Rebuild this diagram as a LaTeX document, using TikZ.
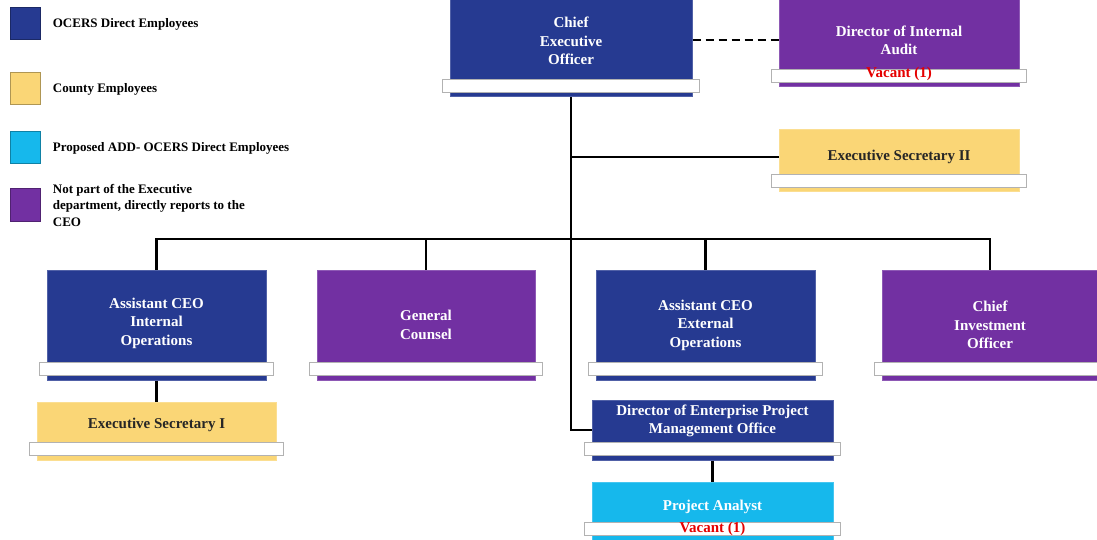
\documentclass[tikz,border=0pt]{standalone}
\usepackage{fontspec}
\setmainfont{Liberation Serif}
\usetikzlibrary{positioning}

\definecolor{ocers}{RGB}{38,58,145}
\definecolor{county}{RGB}{250,214,118}
\definecolor{proposed}{RGB}{22,184,236}
\definecolor{outside}{RGB}{114,48,162}

\tikzset{every picture/.style={line width=0.75pt}}

\begin{document}
\begin{tikzpicture}[x=1pt,y=-1pt,
  unit/.style={fill=#1, draw=#1!80!white, line width=1pt, inner sep=0pt},
  caption/.style={text=white, align=center, inner sep=0pt, font=\bfseries\fontsize{15}{18.5}\selectfont},
  dark caption/.style={caption, text=black!85},
  vacant/.style={text=red!90!black, inner sep=0pt, font=\bfseries\fontsize{15}{17}\selectfont},
  shelf/.style={fill=white, draw=gray!60, line width=0.8pt},
  link/.style={draw=black, line width=2.4pt},
  key/.style={fill=#1, draw=#1!70!black, line width=1pt, minimum width=30pt, minimum height=32pt, inner sep=0pt},
  keytext/.style={align=left, inner sep=0pt, font=\bfseries\fontsize{13}{16.5}\selectfont},
]
\clip (0,0) rectangle (1097,540);

% legend
\node[key=ocers] (k1) at (25,24) {};
\node[key=county] (k2) at (25,89) {};
\node[key=proposed] (k3) at (25,148) {};
\node[key=outside] (k4) at (25,205) {};
\node[keytext, right=12pt of k1] (k1-t) {OCERS Direct Employees};
\node[keytext, right=12pt of k2] (k2-t) {County Employees};
\node[keytext, right=12pt of k3] (k3-t) {Proposed ADD- OCERS Direct Employees};
\node[keytext, right=12pt of k4] (k4-t) {Not part of the Executive\\department, directly reports to the\\CEO};

% top level
\node[unit=ocers, minimum width=242pt, minimum height=112pt,
  label={[caption, name=ceo-t]center:{Chief\\Executive\\Officer}}] (ceo) at (571,41) {};
\node[unit=outside, minimum width=240pt, minimum height=95pt,
  label={[caption, name=audit-t, yshift=-1pt]center:{Director of Internal\\Audit}}] (audit) at (899,39.5) {};
\node[unit=county, minimum width=240pt, minimum height=62pt,
  label={[dark caption, name=sec2-t, yshift=4pt]center:{Executive Secretary II}}] (sec2) at (899,161) {};

% second row
\node[unit=ocers, minimum width=219pt, minimum height=110pt,
  label={[caption, name=aceoi-t, yshift=2pt]center:{Assistant CEO\\Internal\\Operations}}] (aceoi) at (156.5,325) {};
\node[unit=outside, minimum width=218pt, minimum height=110pt,
  label={[caption, name=gc-t]center:{General\\Counsel}}] (gc) at (426,325) {};
\node[unit=ocers, minimum width=219pt, minimum height=110pt,
  label={[caption, name=aceoe-t]center:{Assistant CEO\\External\\Operations}}] (aceoe) at (705.5,325) {};
\node[unit=outside, minimum width=216pt, minimum height=110pt,
  label={[caption, name=cio-t]center:{Chief\\Investment\\Officer}}] (cio) at (990,325) {};

% third row
\node[unit=county, minimum width=239pt, minimum height=58pt,
  label={[dark caption, name=sec1-t, yshift=6pt]center:{Executive Secretary I}}] (sec1) at (156.5,431) {};
\node[unit=ocers, minimum width=241pt, minimum height=60pt,
  label={[caption, name=epmo-t, yshift=9pt]center:{Director of Enterprise Project\\Management Office}}] (epmo) at (712.5,430) {};
\node[unit=proposed, minimum width=241pt, minimum height=58pt,
  label={[caption, name=analyst-t, yshift=4pt]center:{Project Analyst}}] (analyst) at (712.5,511) {};

% connectors
\coordinate (bus) at (571,239);
\draw[link] (ceo.south) |- (epmo.west);
\draw[link] (ceo.south |- sec2-t) -- (sec2.west |- sec2-t);
\draw[link, line width=2pt, dash pattern=on 8pt off 5pt] (ceo.east |- audit-t) -- (audit.west |- audit-t);
\draw[link] (aceoi.north) -- (aceoi.north |- bus) -- (cio.north |- bus) -- (cio.north);
\draw[link] (gc.north) -- (gc.north |- bus);
\draw[link] (aceoe.north) -- (aceoe.north |- bus);
\draw[link] (aceoi.south) -- (sec1.north);
\draw[link] (epmo.south) -- (analyst.north);

% white shelves
\foreach \n in {ceo,audit,sec2,aceoi,gc,aceoe,cio,sec1,epmo,analyst}
  \draw[shelf] ([xshift=-7pt,yshift=5pt]\n.south west) rectangle ([xshift=7pt,yshift=18pt]\n.south east);

\node[vacant] (audit-v) at (899,74) {Vacant (1)};
\node[vacant] (analyst-v) at (712.5,529) {Vacant (1)};

\end{tikzpicture}
\end{document}
